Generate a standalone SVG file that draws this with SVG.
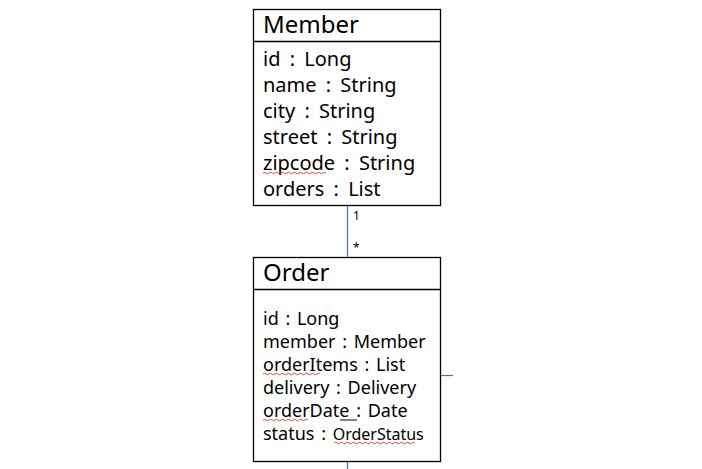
<svg xmlns="http://www.w3.org/2000/svg" width="702" height="469" viewBox="0 0 702 469">
<style>
.box{fill:#fff;stroke:#000;stroke-width:1.3}
.div{stroke:#000;stroke-width:1.3}
.t{font-family:"Noto Sans","Liberation Sans",sans-serif;fill:#000}
.h{font-size:24px}
.a{font-size:20px;word-spacing:4px}
.b{font-size:18px;word-spacing:2px}
.s{font-size:12px}
.con{stroke:#4472C4;stroke-width:1.2;fill:none}
.sq{stroke:#e03030;stroke-width:0.9;fill:none}
</style>
<rect width="702" height="469" fill="#fff"/>
<g id="connectors">
<line class="con" x1="347.5" y1="206" x2="347.5" y2="257"/>
<line class="con" x1="441" y1="375.5" x2="453" y2="375.5"/>
<line class="con" x1="347.5" y1="462" x2="347.5" y2="469"/>
<text class="t s" x="353" y="220">1</text>
<text class="t s" x="353" y="252">*</text>
</g>
<g id="member">
<rect class="box" x="253.5" y="9.5" width="187" height="196"/>
<line class="div" x1="253.5" y1="41.5" x2="440.5" y2="41.5"/>
<text class="t h" x="263" y="33">Member</text>
<text class="t a" x="263" y="66">id : Long</text>
<text class="t a" x="263" y="92">name : String</text>
<text class="t a" x="263" y="118">city : String</text>
<text class="t a" x="263" y="144">street : String</text>
<text class="t a" x="263" y="170">zipcode : String</text>
<text class="t a" x="263" y="196">orders : List</text>
<path class="sq" d="M263 173 q1.5 -1.5 3 0 t3 0 t3 0 t3 0 t3 0 t3 0 t3 0 t3 0 t3 0 t3 0 t3 0 t3 0 t3 0 t3 0 t3 0 t3 0 t3 0 t3 0 t3 0 t3 0 t3 0"/>
</g>
<g id="order">
<rect class="box" x="253.5" y="257.5" width="187" height="204"/>
<line class="div" x1="253.5" y1="289.5" x2="440.5" y2="289.5"/>
<text class="t h" x="263" y="281">Order</text>
<text class="t b" x="263" y="325">id : Long</text>
<text class="t b" x="263" y="348">member : Member</text>
<text class="t b" x="263" y="371">orderItems : List</text>
<text class="t b" x="263" y="394">delivery : Delivery</text>
<text class="t b" x="263" y="417">orderDate : Date</text>
<text class="t b" x="263" y="440">status : <tspan font-size="16">OrderStatus</tspan></text>
<path class="sq" d="M263 374 q1.5 -1.5 3 0 t3 0 t3 0 t3 0 t3 0 t3 0 t3 0 t3 0 t3 0 t3 0 t3 0 t3 0 t3 0 t3 0 t3 0 t3 0 t3 0 t3 0 t3 0"/>
<path class="sq" d="M263 420 q1.5 -1.5 3 0 t3 0 t3 0 t3 0 t3 0 t3 0 t3 0 t3 0 t3 0 t3 0 t3 0 t3 0 t3 0 t3 0 t3 0"/>
<line x1="340" y1="420" x2="357" y2="420" stroke="#000" stroke-width="1"/>
<path class="sq" d="M334 443 q1.5 -1.5 3 0 t3 0 t3 0 t3 0 t3 0 t3 0 t3 0 t3 0 t3 0 t3 0 t3 0 t3 0 t3 0 t3 0 t3 0 t3 0 t3 0 t3 0 t3 0 t3 0 t3 0 t3 0 t3 0 t3 0 t3 0 t3 0 t3 0"/>
</g>
</svg>
